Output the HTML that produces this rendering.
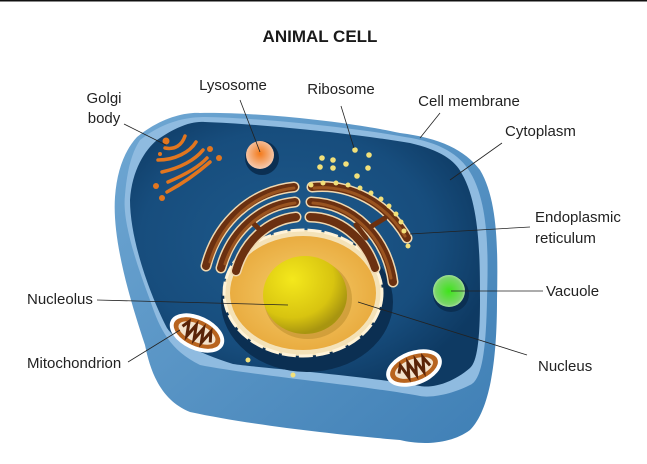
<!DOCTYPE html>
<html><head><meta charset="utf-8"><style>
html,body{margin:0;padding:0;background:#fff;}
svg{display:block;}
text{font-family:"Liberation Sans Narrow","Liberation Sans",sans-serif;font-size:15px;fill:#222;}
</style></head><body>
<svg width="647" height="464" viewBox="0 0 647 464" xmlns="http://www.w3.org/2000/svg">
<defs>
<radialGradient id="top" cx="0.45" cy="0.45" r="0.6"><stop offset="0" stop-color="#1e5a8c"/><stop offset="0.7" stop-color="#174d7d"/><stop offset="1" stop-color="#0e3a63"/></radialGradient>
<linearGradient id="side" x1="0" y1="0" x2="1" y2="1"><stop offset="0" stop-color="#6fa7d3"/><stop offset="1" stop-color="#3f7fb5"/></linearGradient>
<radialGradient id="nuc" cx="0.5" cy="0.5" r="0.55"><stop offset="0" stop-color="#f6cf6e"/><stop offset="1" stop-color="#e8a93c"/></radialGradient>
<radialGradient id="nucl" cx="0.35" cy="0.3" r="0.7"><stop offset="0" stop-color="#f4e81c"/><stop offset="0.7" stop-color="#d8c410"/><stop offset="1" stop-color="#a89510"/></radialGradient>
<radialGradient id="lys" cx="0.5" cy="0.45" r="0.6"><stop offset="0" stop-color="#f47a1a"/><stop offset="1" stop-color="#f5d3c0"/></radialGradient>
<radialGradient id="vac" cx="0.5" cy="0.5" r="0.6"><stop offset="0" stop-color="#3ee41a"/><stop offset="0.7" stop-color="#7bd56a"/><stop offset="1" stop-color="#d6eed0"/></radialGradient>
</defs>
<rect x="0" y="0" width="647" height="1.5" fill="#111"/>
<text x="320" y="42" text-anchor="middle" style="font-family:'Liberation Sans',sans-serif;font-weight:bold;font-size:17px;fill:#1a1a1a">ANIMAL CELL</text>

<!-- cell body -->
<path d="M137,137 C160,118 185,112 200,113 C260,112 350,122 400,133 C440,138 465,150 480,170 C498,200 498,250 497,300 C497,360 490,410 470,430 C450,445 420,445 400,440 C340,435 250,425 190,412 C160,400 150,370 145,345 C130,300 112,240 115,197 C117,170 125,150 137,137 Z" fill="url(#side)"/>
<path d="M140,140 C165,120 190,117 205,117 C260,118 350,127 405,137 C440,142 460,155 470,172 C490,205 488,260 487,300 C486,350 482,380 470,385 C450,395 430,398 420,396 C360,385 250,375 200,365 C170,350 160,330 150,300 C135,260 122,220 125,195 C127,170 132,152 140,140 Z" fill="#8fbbe0"/>
<path d="M157,140 C180,124 195,121 205,122 C260,124 350,133 410,143 C440,150 455,160 462,174 C480,205 480,260 480,300 C480,340 477,362 470,368 C450,385 430,388 420,386 C360,375 260,368 233,364 C195,352 175,340 167,328 C150,295 130,240 130,200 C132,170 145,150 157,140 Z" fill="url(#top)"/>

<!-- nucleus shadow -->
<ellipse cx="307" cy="302" rx="86" ry="70" fill="#0b2f52"/>
<ellipse cx="303" cy="293" rx="79" ry="63" fill="#f4e2b8"/>
<ellipse cx="303" cy="293" rx="79" ry="63" fill="none" stroke="#fff3d8" stroke-width="3" stroke-dasharray="14 3"/>
<ellipse cx="303" cy="293" rx="73" ry="57" fill="url(#nuc)"/>
<ellipse cx="308" cy="299" rx="44" ry="40" fill="#b88a2a" opacity="0.5"/>
<ellipse cx="305" cy="295" rx="42" ry="39" fill="url(#nucl)"/>

<!-- ER -->
<g fill="none" stroke-linecap="round">
<g stroke="#f0d8b0" stroke-width="11">
<path d="M206,266 A100,108 0 0 1 294,187"/>
<path d="M221,268 A85,93 0 0 1 295,202"/>
<path d="M236,271 A70,78 0 0 1 296,217"/>
<path d="M312,187 A100,108 0 0 1 407,238"/>
<path d="M311,202 A85,93 0 0 1 393,282"/>
<path d="M310,217 A70,78 0 0 1 375,268"/>
</g>
<g stroke="#6b3010" stroke-width="8">
<path d="M206,266 A100,108 0 0 1 294,187"/>
<path d="M221,268 A85,93 0 0 1 295,202"/>
<path d="M236,271 A70,78 0 0 1 296,217"/>
<path d="M312,187 A100,108 0 0 1 407,238"/>
<path d="M311,202 A85,93 0 0 1 393,282"/>
<path d="M310,217 A70,78 0 0 1 375,268"/>
<path d="M250,220 L262,232 M385,218 L372,226 M356,225 L366,238" stroke-width="5"/>
</g>
<g stroke="#9a5420" stroke-width="3">
<path d="M210,262 A100,108 0 0 1 294,188"/>
<path d="M225,264 A85,93 0 0 1 295,203"/>
<path d="M314,188 A100,108 0 0 1 405,236"/>
<path d="M313,203 A85,93 0 0 1 391,278"/>
</g>
</g>
<!-- ribosomes -->
<g fill="#f2e07a">
<circle cx="355" cy="150" r="2.8"/><circle cx="322" cy="158" r="2.8"/><circle cx="333" cy="160" r="2.8"/><circle cx="369" cy="155" r="2.8"/>
<circle cx="320" cy="167" r="2.8"/><circle cx="333" cy="168" r="2.8"/><circle cx="346" cy="164" r="2.8"/><circle cx="368" cy="168" r="2.8"/>
<circle cx="357" cy="176" r="2.8"/>
<circle cx="311" cy="185" r="2.5"/><circle cx="323" cy="183" r="2.5"/><circle cx="336" cy="183" r="2.5"/><circle cx="348" cy="185" r="2.5"/><circle cx="360" cy="188" r="2.5"/><circle cx="371" cy="193" r="2.5"/><circle cx="381" cy="199" r="2.5"/><circle cx="389" cy="206" r="2.5"/><circle cx="396" cy="214" r="2.5"/><circle cx="401" cy="222" r="2.5"/><circle cx="404" cy="231" r="2.5"/>
<circle cx="248" cy="360" r="2.5"/><circle cx="293" cy="375" r="2.5"/><circle cx="408" cy="246" r="2.5"/>
</g>
<!-- golgi -->
<g fill="none" stroke="#e2761f" stroke-width="3.5" stroke-linecap="round">
<path d="M165,148 C175,150 182,145 185,136"/>
<path d="M158,160 C175,160 190,152 196,142"/>
<path d="M162,172 C180,168 195,160 203,150"/>
<path d="M168,182 C182,176 198,168 207,158"/>
<path d="M167,192 C180,185 195,175 210,162"/>
</g>
<g fill="#e2761f"><circle cx="166" cy="141" r="3.5"/><circle cx="210" cy="149" r="3"/><circle cx="219" cy="158" r="3"/><circle cx="156" cy="186" r="3"/><circle cx="162" cy="198" r="3"/><circle cx="160" cy="154" r="2"/></g>
<!-- lysosome -->
<circle cx="262" cy="158" r="17" fill="#0b2f52"/>
<circle cx="260" cy="155" r="14" fill="url(#lys)"/>
<!-- vacuole -->
<circle cx="451" cy="294" r="18" fill="#0b2f52"/>
<circle cx="449" cy="291" r="16" fill="url(#vac)"/>
<!-- mitochondria -->
<g transform="translate(197,333) rotate(25)">
<ellipse rx="29" ry="17" fill="#fff"/><ellipse rx="25" ry="13" fill="#b8641f"/><ellipse rx="20" ry="9" fill="#f3e2cc"/>
<path d="M-16,0 l4,-7 l4,14 l4,-14 l4,14 l4,-14 l4,14 l4,-14 l4,10" fill="none" stroke="#5a2408" stroke-width="3"/>
</g>
<g transform="translate(414,368) rotate(-20)">
<ellipse rx="29" ry="17" fill="#fff"/><ellipse rx="25" ry="13" fill="#b8641f"/><ellipse rx="20" ry="9" fill="#f3e2cc"/>
<path d="M-16,0 l4,-7 l4,14 l4,-14 l4,14 l4,-14 l4,14 l4,-14 l4,10" fill="none" stroke="#5a2408" stroke-width="3"/>
</g>

<!-- leader lines -->
<g stroke="#222" stroke-width="0.8">
<line x1="124" y1="124" x2="166" y2="145"/>
<line x1="240" y1="100" x2="260" y2="152"/>
<line x1="341" y1="106" x2="354" y2="148"/>
<line x1="440" y1="113" x2="420" y2="138"/>
<line x1="502" y1="143" x2="450" y2="180"/>
<line x1="530" y1="227" x2="410" y2="234"/>
<line x1="543" y1="291" x2="451" y2="291"/>
<line x1="97" y1="300" x2="288" y2="305"/>
<line x1="128" y1="362" x2="180" y2="330"/>
<line x1="527" y1="355" x2="358" y2="302"/>
</g>
<!-- labels -->
<text x="104" y="103" text-anchor="middle">Golgi</text>
<text x="104" y="123" text-anchor="middle">body</text>
<text x="233" y="90" text-anchor="middle">Lysosome</text>
<text x="341" y="94" text-anchor="middle">Ribosome</text>
<text x="469" y="106" text-anchor="middle">Cell membrane</text>
<text x="505" y="136">Cytoplasm</text>
<text x="535" y="222">Endoplasmic</text>
<text x="535" y="243">reticulum</text>
<text x="546" y="296">Vacuole</text>
<text x="27" y="304">Nucleolus</text>
<text x="27" y="368">Mitochondrion</text>
<text x="538" y="371">Nucleus</text>
</svg>
</body></html>
